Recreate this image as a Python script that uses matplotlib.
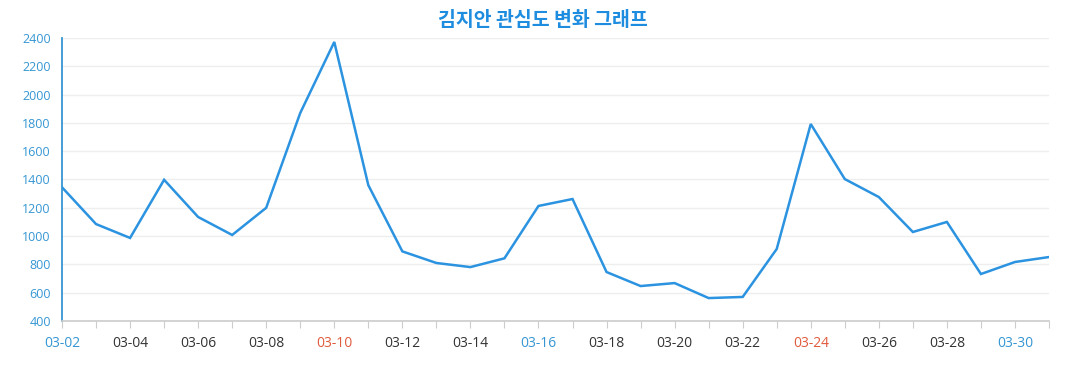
import matplotlib
matplotlib.use('Agg')
import matplotlib.pyplot as plt

# 데이터
dates = ['03-%02d' % d for d in range(2, 32)]
values = [1345, 1085, 987, 1398, 1135, 1008, 1200, 1870, 2372, 1360,
          892, 810, 781, 843, 1213, 1262, 746, 647, 668, 562,
          570, 909, 1792, 1403, 1276, 1029, 1100, 732, 817, 852]
y_ticks = [400, 600, 800, 1000, 1200, 1400, 1600, 1800, 2000, 2200, 2400]
blue_days = ['03-02', '03-16', '03-30']
red_days = ['03-10', '03-24']

LINE = '#2b93e0'
TICK_BLUE = '#3596d3'
RED = '#e05a3c'

plt.rcParams['font.family'] = ['Open Sans', 'DejaVu Sans']

fig = plt.figure(figsize=(10.77, 3.9), dpi=100)
ax = fig.add_axes([62 / 1077, 1 - 321 / 390, (1049 - 62) / 1077, (321 - 38) / 390])

x = list(range(len(dates)))
ax.plot(x, values, color=LINE, linewidth=1.8, solid_joinstyle='miter')

ax.set_xlim(0, len(dates) - 1)
ax.set_ylim(400, 2400)
ax.set_yticks(y_ticks)
ax.set_yticklabels([str(v) for v in y_ticks], fontsize=9, color=TICK_BLUE)
ax.tick_params(axis='y', length=0, pad=8)

ax.set_xticks(x)
ax.set_xticklabels([d if i % 2 == 0 else '' for i, d in enumerate(dates)], fontsize=10)
ax.tick_params(axis='x', length=5, color='#cccccc', pad=6)
for lbl in ax.get_xticklabels():
    t = lbl.get_text()
    if t in blue_days:
        lbl.set_color(TICK_BLUE)
    elif t in red_days:
        lbl.set_color(RED)
    else:
        lbl.set_color('#333333')

ax.grid(axis='y', color='#eeeeee', linewidth=1)
ax.set_axisbelow(True)
for s in ['top', 'right']:
    ax.spines[s].set_visible(False)
ax.spines['left'].set_color(TICK_BLUE)
ax.spines['left'].set_linewidth(1.3)
ax.spines['bottom'].set_color('#cccccc')
ax.spines['bottom'].set_linewidth(1.2)

fig.text(543 / 1077, 1 - 20 / 390, '김지안 관심도 변화 그래프', ha='center', va='center',
         fontsize=14, fontweight='bold', color='#1e8de0',
         family=['Noto Sans CJK KR', 'DejaVu Sans'])

fig.savefig('out.png', dpi=100)
